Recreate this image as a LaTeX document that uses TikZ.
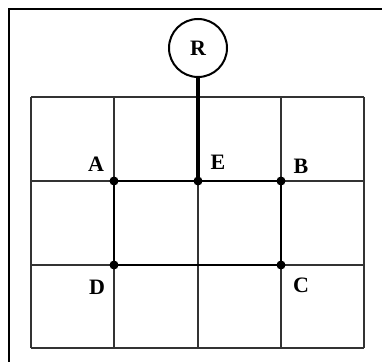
\documentclass[tikz,border=0pt]{standalone}
\usepackage{fontspec}
\setmainfont{Liberation Serif}
\begin{document}
\begin{tikzpicture}[x=1pt,y=-1pt,
  gridline/.style={line width=2pt, black!80},
  thickline/.style={line width=2.7pt, black},
  dot/.style={circle, fill=black, inner sep=0pt, minimum size=9pt},
  lbl/.style={font=\fontsize{22}{22}\selectfont\bfseries, inner sep=0pt}]
\useasboundingbox (0,0) rectangle (382,361);
% outer frame (top and left edges visible)
\draw[line width=2.8pt] (9,365) -- (9,9) -- (386,9);
% grid
\foreach \x in {31,114,198,281,364} \draw[gridline] (\x,97) -- (\x,348);
\foreach \y in {97,181,265,348} \draw[gridline] (31,\y) -- (364,\y);
% nodes
\node[dot] (A) at (114,181) {};
\node[dot] (E) at (198,181) {};
\node[dot] (B) at (281,181) {};
\node[dot] (D) at (114,265) {};
\node[dot] (C) at (281,265) {};
\node[draw, circle, line width=2pt, minimum size=58pt, inner sep=0pt, font=\fontsize{22}{22}\selectfont\bfseries] (R) at (198,48) {R};
% thick connectors
\draw[line width=3.2pt] (R) -- (E.center);
\draw[thickline] (A.center) -- (E.center) -- (B.center) -- (C.center) -- (D.center) -- (A.center);
% labels
\node[lbl] (lA) at (96,164) {A};
\node[lbl] (lE) at (218,162) {E};
\node[lbl] (lB) at (301,166) {B};
\node[lbl] (lD) at (97,287) {D};
\node[lbl] (lC) at (301,285) {C};
\end{tikzpicture}
\end{document}
